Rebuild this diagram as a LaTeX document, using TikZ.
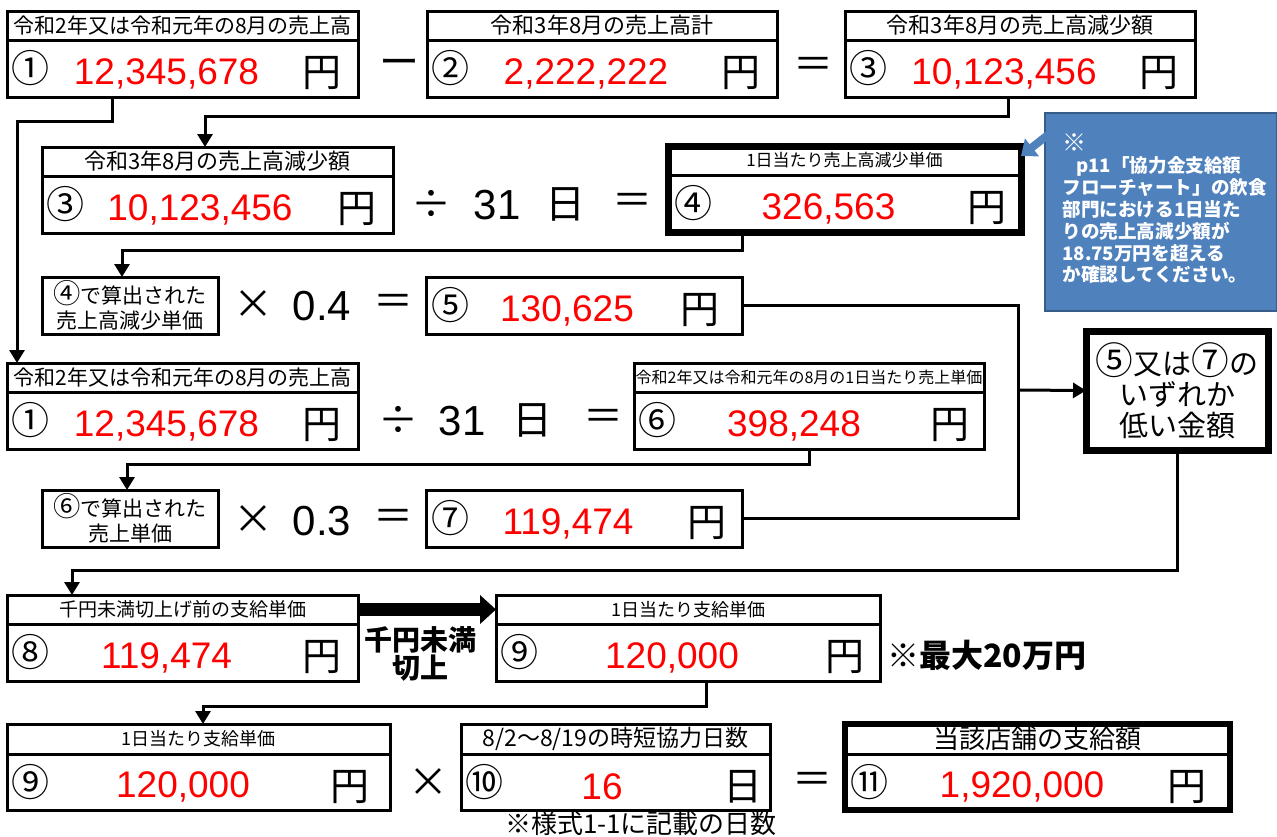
\documentclass[tikz,border=0pt]{standalone}
\usepackage{fontspec}
\setmainfont{Noto Sans CJK JP}
\newfontfamily\numfont{Liberation Sans}
\usepackage{tikz}
\usetikzlibrary{arrows.meta,positioning}
\definecolor{noteblue}{RGB}{79,129,189}
\definecolor{noteedge}{RGB}{56,93,138}
\newcommand\bigc[1]{{\fontsize{1.3em}{1em}\selectfont #1}}

\begin{document}
\begin{tikzpicture}[x=0.5pt,y=-0.5pt,
    hdr/.style={draw,line width=1.5pt,inner sep=0pt,outer sep=0pt,minimum height=14.5pt,anchor=north west},
    cell/.style={draw,line width=1.5pt,inner sep=0pt,outer sep=0pt,minimum height=28.5pt},
    amount/.style={text=red,inner sep=0pt,font=\numfont\fontsize{18.5}{20}\selectfont},
    yen/.style={inner sep=0pt,font=\fontsize{19.5}{20}\selectfont},
    circled/.style={inner sep=0pt,anchor=west,font=\fontsize{19}{20}\selectfont},
    op/.style={inner sep=0pt,font=\fontsize{20}{22}\selectfont},
    opnum/.style={inner sep=0pt,font=\numfont\fontsize{21}{22}\selectfont},
    wire/.style={line width=1.5pt},
    link/.style={line width=1.5pt,-{Triangle[width=7.5pt,length=6.5pt]}}]
        \useasboundingbox (0,0) rectangle (1277,836);
        % first row: 1 - 2 = 3
        \node[hdr,minimum width=175.5pt,font=\fontsize{10.5}{12}\selectfont] (h1) at (7,11) {令和2年又は令和元年の8月の売上高};
        \node[cell,minimum width=175.5pt,below=0pt of h1] (v1) {};
        \node[circled] (c1) at ([xshift=2pt]v1.west) {①};
        \node[amount] (n1) at ([shift={(-8pt,-2.5pt)}]v1.center) {12,345,678};
        \node[yen] (u1) at ([shift={(-18pt,-2.5pt)}]v1.east) {円};
        \node[op] (minus) at (399,68) {ー};
        \node[hdr,minimum width=175pt,font=\fontsize{11}{12}\selectfont] (h2) at (427,11) {令和3年8月の売上高計};
        \node[cell,minimum width=175pt,below=0pt of h2] (v2) {};
        \node[circled] (c2) at ([xshift=2pt]v2.west) {②};
        \node[amount] (n2) at ([shift={(-8pt,-2.5pt)}]v2.center) {2,222,222};
        \node[yen] (u2) at ([shift={(-18pt,-2.5pt)}]v2.east) {円};
        \node[op] (eq1) at (813,68) {＝};
        \node[hdr,minimum width=175pt,font=\fontsize{11}{12}\selectfont] (h3) at (845,11) {令和3年8月の売上高減少額};
        \node[cell,minimum width=175pt,below=0pt of h3] (v3) {};
        \node[circled] (c3) at ([xshift=2pt]v3.west) {③};
        \node[amount] (n3) at ([shift={(-8pt,-2.5pt)}]v3.center) {10,123,456};
        \node[yen] (u3) at ([shift={(-18pt,-2.5pt)}]v3.east) {円};
        % second row: 3 / 31 = 4
        \node[hdr,minimum width=175.5pt,font=\fontsize{11}{12}\selectfont] (h3b) at (42,147) {令和3年8月の売上高減少額};
        \node[cell,minimum width=175.5pt,below=0pt of h3b] (v3b) {};
        \node[circled] (c3b) at ([xshift=2pt]v3b.west) {③};
        \node[amount] (n3b) at ([shift={(-8.75pt,-2.5pt)}]v3b.center) {10,123,456};
        \node[yen] (u3b) at ([shift={(-18pt,-2.5pt)}]v3b.east) {円};
        \node[op] (div1) at (431,204) {÷};
        \node[opnum] (d31a) at (497,205) {31};
        \node[op] (day1) at (565,204) {日};
        \node[op] (eq2) at (632,204) {＝};
        \node[hdr,minimum width=176.5pt,font=\fontsize{8.5}{10}\selectfont] (h4) at (668,146) {1日当たり売上高減少単価};
        \node[cell,minimum width=176.5pt,below=0pt of h4] (v4) {};
        \node[circled] (c4) at ([xshift=3pt]v4.west) {④};
        \node[amount] (n4) at ([shift={(-8pt,-2.5pt)}]v4.center) {326,563};
        \node[yen] (u4) at ([shift={(-17pt,-2.5pt)}]v4.east) {円};
        \draw[line width=3.5pt] (h4.north west) rectangle (v4.south east);
        % third row: 4 x 0.4 = 5
        \node[cell,anchor=north west,minimum width=88pt,align=center,font=\fontsize{10.5}{12.5}\selectfont] (t4) at (42,277) {\bigc{④}で算出された\\売上高減少単価};
        \node[op] (x1) at (253,305) {×};
        \node[opnum] (r04) at (322,306) {0.4};
        \node[op] (eq3) at (393,305) {＝};
        \node[cell,anchor=north west,minimum width=158pt] (v5) at (426,277) {};
        \node[circled] (c5) at ([xshift=2.5pt]v5.west) {⑤};
        \node[amount] (n5) at ([shift={(-8.5pt,-2.5pt)}]v5.center) {130,625};
        \node[yen] (u5) at ([shift={(-21pt,-2.5pt)}]v5.east) {円};
        % fourth row: 1 / 31 = 6
        \node[hdr,minimum width=175.5pt,font=\fontsize{10.5}{12}\selectfont] (h1b) at (7,363) {令和2年又は令和元年の8月の売上高};
        \node[cell,minimum width=175.5pt,below=0pt of h1b] (v1b) {};
        \node[circled] (c1b) at ([xshift=2pt]v1b.west) {①};
        \node[amount] (n1b) at ([shift={(-8pt,-2.5pt)}]v1b.center) {12,345,678};
        \node[yen] (u1b) at ([shift={(-18pt,-2.5pt)}]v1b.east) {円};
        \node[op] (div2) at (398,420) {÷};
        \node[opnum] (d31b) at (462,421) {31};
        \node[op] (day2) at (532,420) {日};
        \node[op] (eq4) at (603,420) {＝};
        \node[hdr,minimum width=175pt,font=\fontsize{8}{10}\selectfont] (h6) at (634,363) {令和2年又は令和元年の8月の1日当たり売上単価};
        \node[cell,minimum width=175pt,below=0pt of h6] (v6) {};
        \node[circled] (c6) at ([xshift=2pt]v6.west) {⑥};
        \node[amount] (n6) at ([shift={(-7.5pt,-2.5pt)}]v6.center) {398,248};
        \node[yen] (u6) at ([shift={(-17pt,-2.5pt)}]v6.east) {円};
        % fifth row: 6 x 0.3 = 7
        \node[cell,anchor=north west,minimum width=88pt,align=center,font=\fontsize{10.5}{12.5}\selectfont] (t6) at (42,490) {\bigc{⑥}で算出された\\売上単価};
        \node[op] (x2) at (253,520) {×};
        \node[opnum] (r03) at (322,521) {0.3};
        \node[op] (eq5) at (393,520) {＝};
        \node[cell,anchor=north west,minimum width=158pt] (v7) at (426,490) {};
        \node[circled] (c7) at ([xshift=2.5pt]v7.west) {⑦};
        \node[amount] (n7) at ([shift={(-8pt,-2.5pt)}]v7.center) {119,474};
        \node[yen] (u7) at ([shift={(-17.5pt,-2.5pt)}]v7.east) {円};
        % lower of 5 and 7
        \node[cell,line width=3.5pt,anchor=north west,minimum width=91pt,minimum height=59.5pt,align=center,font=\fontsize{14.5}{15.5}\selectfont] (e) at (1086,331) {\bigc{⑤}又は\bigc{⑦}の\\いずれか\\低い金額};
        % blue note
        \node[draw=noteedge,fill=noteblue,line width=1pt,anchor=north west,minimum width=116pt,minimum height=99pt,inner sep=0pt,outer sep=0pt] (memo) at (1045,113) {};
        \node[anchor=north west,text=white,align=left,inner sep=0pt,font=\bfseries\fontsize{9.3}{10.9}\selectfont] (memotext) at (1062,133) {{\fontsize{12}{10.9}\selectfont ※}\\\hspace{7pt}p11「協力金支給額\\フローチャート」の飲食\\部門における1日当た\\りの売上高減少額が\\18.75万円を超える\\か確認してください。};
        \draw[noteblue,line width=4pt,-{Triangle[width=11pt,length=7pt]}] ([shift={(6.5pt,-7pt)}]memo.north west) -- ([yshift=-5pt]h4.north east);
        % sixth row: 8 -> 9
        \node[hdr,minimum width=175.5pt,font=\fontsize{9.5}{11}\selectfont] (h8) at (7,595) {千円未満切上げ前の支給単価};
        \node[cell,minimum width=175.5pt,below=0pt of h8] (v8) {};
        \node[circled] (c8) at ([xshift=2pt]v8.west) {⑧};
        \node[amount] (n8) at ([shift={(-8pt,-2.5pt)}]v8.center) {119,474};
        \node[yen] (u8) at ([shift={(-18pt,-2.5pt)}]v8.east) {円};
        \node[hdr,minimum width=192pt,font=\fontsize{9}{11}\selectfont] (h9) at (496,595) {1日当たり支給単価};
        \node[cell,minimum width=192pt,below=0pt of h9] (v9) {};
        \node[circled] (c9) at ([xshift=2pt]v9.west) {⑨};
        \node[amount] (n9) at ([shift={(-8pt,-2.5pt)}]v9.center) {120,000};
        \node[yen] (u9) at ([shift={(-17.5pt,-2.5pt)}]v9.east) {円};
        \draw[line width=6.5pt,-{Triangle[width=14pt,length=8pt]}] (h8.east) -- (h9.west);
        \node[align=center,inner sep=0pt,font=\bfseries\fontsize{14}{14}\selectfont] (kiriage) at (420,654) {千円未満\\切上};
        \node[anchor=west,inner sep=0pt,font=\bfseries\fontsize{16}{16}\selectfont] (maxnote) at (887,655) {※最大20万円};
        % last row: 9 x 10 = 11
        \node[hdr,minimum width=191.5pt,minimum height=15pt,font=\fontsize{9}{11}\selectfont] (h9b) at (7,724) {1日当たり支給単価};
        \node[cell,minimum width=191.5pt,minimum height=28pt,below=0pt of h9b] (v9b) {};
        \node[circled] (c9b) at ([xshift=2pt]v9b.west) {⑨};
        \node[amount] (n9b) at ([shift={(-7.75pt,-2.5pt)}]v9b.center) {120,000};
        \node[yen] (u9b) at ([shift={(-20pt,-2.5pt)}]v9b.east) {円};
        \node[op] (x3) at (428,783) {×};
        \node[hdr,minimum width=154.5pt,minimum height=15pt,font=\fontsize{11.5}{12}\selectfont] (h10) at (461,724) {8/2～8/19の時短協力日数};
        \node[cell,minimum width=154.5pt,minimum height=28pt,below=0pt of h10] (v10) {};
        \node[circled] (c10) at ([xshift=2pt]v10.west) {⑩};
        \node[amount] (n10) at ([shift={(-6.75pt,-2.5pt)}]v10.center) {16};
        \node[yen] (u10) at ([shift={(-13.5pt,-2.5pt)}]v10.east) {日};
        \node[op] (eq6) at (812,783) {＝};
        \node[hdr,minimum width=192.5pt,minimum height=15pt,font=\fontsize{13}{14}\selectfont] (h11) at (845,724) {当該店舗の支給額};
        \node[cell,minimum width=192.5pt,minimum height=28pt,below=0pt of h11] (v11) {};
        \node[circled] (c11) at ([xshift=2.5pt]v11.west) {⑪};
        \node[amount] (n11) at ([shift={(-7.75pt,-2.5pt)}]v11.center) {1,920,000};
        \node[yen] (u11) at ([shift={(-21.5pt,-2.5pt)}]v11.east) {円};
        \draw[line width=3pt] (h11.north west) rectangle (v11.south east);
        \node[inner sep=0pt,font=\fontsize{13}{13}\selectfont] (footnote) at (641,824) {※様式1-1に記載の日数};
        % connectors
        \draw[link] ([xshift=-35pt]v1.south) -- ++(0,24) -| ([xshift=5pt]h1b.north west);
        \draw[link] ([xshift=-6pt]v3.south) -- ++(0,19) -| ([xshift=81.5pt]h3b.north west);
        \draw[link] ([xshift=-51pt]v4.south) -- ++(0,18) -| ([xshift=40pt]t4.north west);
        \draw[link] (v6.south) -- ++(0,15) -| ([xshift=42.5pt]t6.north west);
        \coordinate (join) at (1018,390);
        \draw[wire] (v5.east) -| (join);
        \draw[wire] (v7.east) -| (join);
        \draw[link] (join) -- (e.west);
        \draw[link] (e.south) -- ++(0,120) -| ([xshift=32.5pt]h8.north west);
        \draw[link] ([xshift=9pt]v9.south) -- ++(0,25) -| ([xshift=98pt]h9b.north west);
\end{tikzpicture}
\end{document}
